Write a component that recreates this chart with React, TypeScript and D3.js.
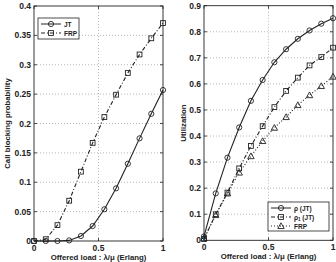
import React from "react";
import * as d3 from "d3";

// Offered load samples (k/11, k = 0..11)
const loads = d3.range(12).map((k) => k / 11);

// Call blocking probability
const blockJT = [0, 0, 0, 0.001, 0.0085, 0.0255, 0.054, 0.0896, 0.1315, 0.1747, 0.2165, 0.257];
const blockFRP = [0, 0.003, 0.027, 0.0686, 0.118, 0.167, 0.211, 0.249, 0.286, 0.3175, 0.345, 0.371];

// Utilization
const rhoJT = [0.015, 0.18, 0.317, 0.433, 0.535, 0.615, 0.683, 0.733, 0.773, 0.805, 0.831, 0.852];
const rho1JT = [0.005, 0.1, 0.183, 0.276, 0.362, 0.438, 0.511, 0.573, 0.624, 0.671, 0.703, 0.739];
const utilFRP = [0.008, 0.097, 0.18, 0.26, 0.323, 0.381, 0.432, 0.473, 0.519, 0.557, 0.592, 0.628];

const xTicks = [0, 0.5, 1];
const xTickLabels = ["0", "0.5", "1"];
const leftYTicks = [0, 0.05, 0.1, 0.15, 0.2, 0.25, 0.3, 0.35, 0.4];
const leftYTickLabels = ["0", "0.05", "0.1", "0.15", "0.2", "0.25", "0.3", "0.35", "0.4"];
const rightYTicks = [0, 0.1, 0.2, 0.3, 0.4, 0.5, 0.6, 0.7, 0.8, 0.9];
const rightYTickLabels = ["0", "0.1", "0.2", "0.3", "0.4", "0.5", "0.6", "0.7", "0.8", "0.9"];

const xLabel = "Offered load : λ/μ (Erlang)";

const FONT = "'Liberation Sans', Arial, sans-serif";
const INK = "#222";

type Marker = "circle" | "square" | "triangle";

function MarkerShape({ type, x, y }: { type: Marker; x: number; y: number }) {
  const common = { fill: "none", stroke: INK, strokeWidth: 0.9 };
  if (type === "circle") return <circle cx={x} cy={y} r={2.6} {...common} />;
  if (type === "square") return <rect x={x - 2.4} y={y - 2.4} width={4.8} height={4.8} {...common} />;
  const s = 3.2;
  return <path d={`M${x},${y - s}L${x + s},${y + s * 0.8}L${x - s},${y + s * 0.8}Z`} {...common} />;
}

interface Series {
  values: number[];
  marker: Marker;
  dash: string;
}

function Panel({
  left, right, top, bottom, yMax, yTicks, yTickLabels, yLabel, yLabelX, series, legend,
}: {
  left: number; right: number; top: number; bottom: number; yMax: number;
  yTicks: number[]; yTickLabels: string[]; yLabel: string; yLabelX: number;
  series: Series[];
  legend: { x: number; y: number; w: number; h: number; labels: React.ReactNode[] };
}) {
  const x = d3.scaleLinear().domain([0, 1]).range([left, right]);
  const y = d3.scaleLinear().domain([0, yMax]).range([bottom, top]);
  const line = d3.line<number>().x((_, i) => x(loads[i])).y((v) => y(v));
  const tickLen = 3;
  return (
    <g>
      {/* grid */}
      {xTicks.slice(1, -1).map((t) => (
        <line key={"gx" + t} x1={x(t)} x2={x(t)} y1={top} y2={bottom} stroke="#999" strokeWidth={0.7} strokeDasharray="1,2" />
      ))}
      {yTicks.slice(1, -1).map((t) => (
        <line key={"gy" + t} x1={left} x2={right} y1={y(t)} y2={y(t)} stroke="#999" strokeWidth={0.7} strokeDasharray="1,2" />
      ))}
      {/* ticks */}
      {xTicks.map((t) => (
        <g key={"tx" + t}>
          <line x1={x(t)} x2={x(t)} y1={bottom} y2={bottom - tickLen} stroke={INK} strokeWidth={0.8} />
          <line x1={x(t)} x2={x(t)} y1={top} y2={top + tickLen} stroke={INK} strokeWidth={0.8} />
        </g>
      ))}
      {yTicks.map((t) => (
        <g key={"ty" + t}>
          <line x1={left} x2={left + tickLen} y1={y(t)} y2={y(t)} stroke={INK} strokeWidth={0.8} />
          <line x1={right} x2={right - tickLen} y1={y(t)} y2={y(t)} stroke={INK} strokeWidth={0.8} />
        </g>
      ))}
      {/* series */}
      {series.map((s, i) => (
        <g key={"s" + i}>
          <path d={line(s.values) || ""} fill="none" stroke={INK} strokeWidth={1.1} strokeDasharray={s.dash} />
          {s.values.map((v, j) => (
            <MarkerShape key={j} type={s.marker} x={x(loads[j])} y={y(v)} />
          ))}
        </g>
      ))}
      {/* frame */}
      <rect x={left} y={top} width={right - left} height={bottom - top} fill="none" stroke={INK} strokeWidth={0.9} />
      {/* tick labels */}
      {xTicks.map((t, i) => (
        <text key={"lx" + t} x={x(t)} y={bottom + 10} textAnchor="middle" fontSize={8.5} fontWeight="bold" fill={INK}>
          {xTickLabels[i]}
        </text>
      ))}
      {yTicks.map((t, i) => (
        <text key={"ly" + t} x={left - 3} y={y(t) + 3} textAnchor="end" fontSize={8.5} fontWeight="bold" fill={INK}>
          {yTickLabels[i]}
        </text>
      ))}
      <text x={(left + right) / 2} y={bottom + 19} textAnchor="middle" fontSize={7.8} fontWeight="bold" fill={INK}>
        {xLabel}
      </text>
      <text
        transform={`translate(${yLabelX},${(top + bottom) / 2}) rotate(-90)`}
        textAnchor="middle" fontSize={7.8} fontWeight="bold" fill={INK}
      >
        {yLabel}
      </text>
      {/* legend */}
      <rect x={legend.x} y={legend.y} width={legend.w} height={legend.h} fill="#fff" stroke={INK} strokeWidth={0.8} />
      {series.map((s, i) => {
        const ly = legend.y + 6 + i * 9;
        const lx0 = legend.x + 3;
        const lx1 = legend.x + 23;
        return (
          <g key={"lg" + i}>
            <line x1={lx0} x2={lx1} y1={ly} y2={ly} stroke={INK} strokeWidth={1} strokeDasharray={s.dash} />
            <MarkerShape type={s.marker} x={(lx0 + lx1) / 2} y={ly} />
            <text x={lx1 + 3} y={ly + 2.5} fontSize={6.5} fontWeight="bold" fill={INK}>
              {legend.labels[i]}
            </text>
          </g>
        );
      })}
    </g>
  );
}

export default function App() {
  return (
    <svg width={336} height={262} style={{ position: "absolute", left: 0, top: 0, background: "#fff" }} fontFamily={FONT}>
      <rect width={336} height={262} fill="#fff" />
      <Panel
        left={34} right={163} top={6} bottom={241} yMax={0.4}
        yTicks={leftYTicks} yTickLabels={leftYTickLabels}
        yLabel="Call blocking probability" yLabelX={10}
        series={[
          { values: blockJT, marker: "circle", dash: "" },
          { values: blockFRP, marker: "square", dash: "4,2,1,2" },
        ]}
        legend={{ x: 38, y: 18, w: 41, h: 21, labels: ["JT", "FRP"] }}
      />
      <Panel
        left={204} right={333} top={5.7} bottom={240.3} yMax={0.9}
        yTicks={rightYTicks} yTickLabels={rightYTickLabels}
        yLabel="Utilization" yLabelX={186}
        series={[
          { values: rhoJT, marker: "circle", dash: "" },
          { values: rho1JT, marker: "square", dash: "4,2,1,2" },
          { values: utilFRP, marker: "triangle", dash: "1,2" },
        ]}
        legend={{
          x: 268, y: 202, w: 61, h: 29,
          labels: [
            <tspan key="a">ρ (JT)</tspan>,
            <tspan key="b">ρ<tspan fontSize={4.5} dy={1.5}>1</tspan><tspan dy={-1.5}> (JT)</tspan></tspan>,
            <tspan key="c">FRP</tspan>,
          ],
        }}
      />
    </svg>
  );
}
